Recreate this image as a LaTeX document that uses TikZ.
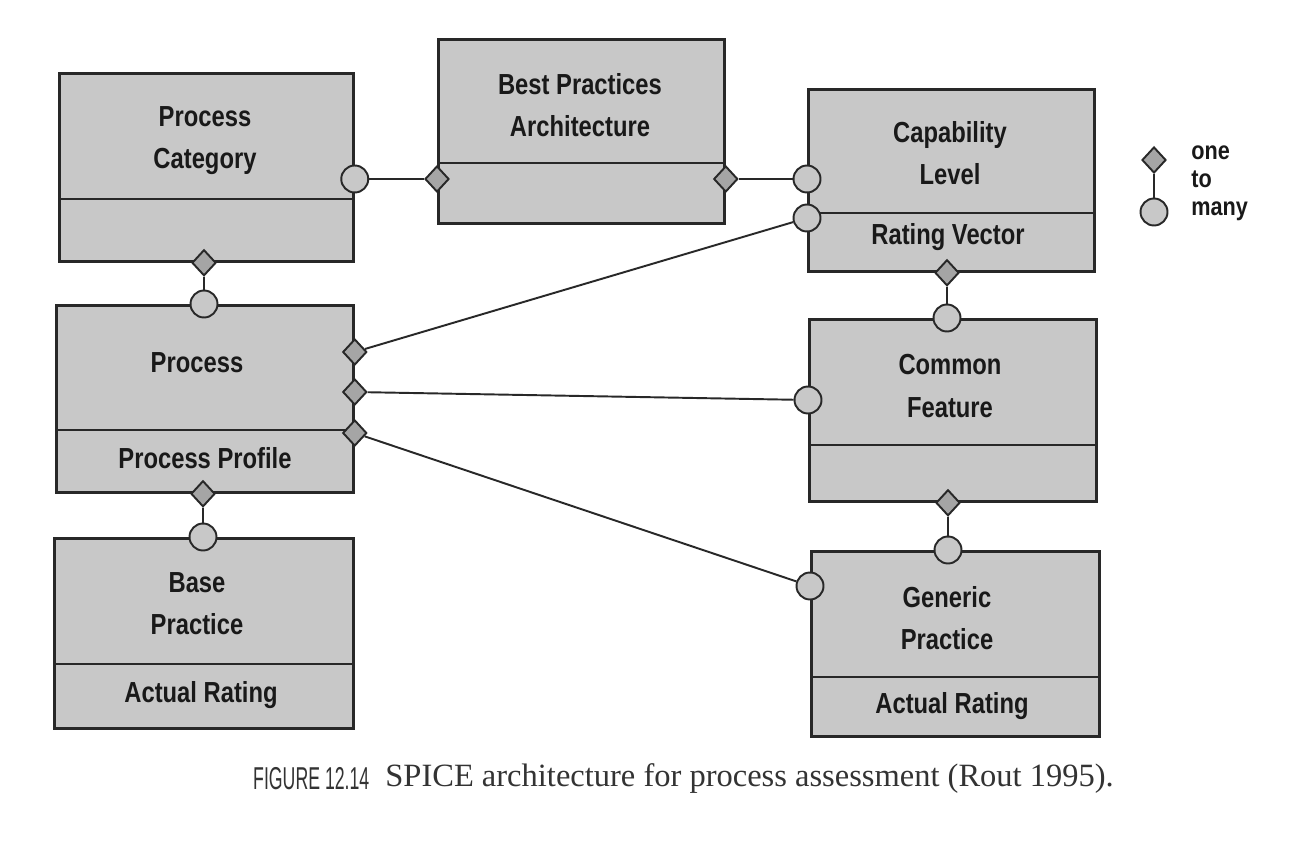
\documentclass[tikz,border=0pt]{standalone}
\usepackage{fontspec}
\usepackage{graphicx}
\setmainfont{Liberation Serif}
\newfontfamily\boxfont{Liberation Sans}
\usetikzlibrary{shapes.geometric,positioning}
\definecolor{boxgray}{RGB}{200,200,200}
\definecolor{markgray}{RGB}{165,165,165}
\definecolor{inkgray}{RGB}{40,40,40}

\begin{document}
\begin{tikzpicture}[x=0.02cm,y=-0.02cm,
  entity/.style={rectangle,draw=inkgray,line width=1.6pt,fill=boxgray,anchor=north west,inner sep=0pt},
  divider/.style={draw=inkgray,line width=1.6pt},
  entitytext/.style={font=\boxfont\bfseries\fontsize{16.5}{24}\selectfont,align=center,text=black!90,xscale=0.82,transform shape},
  onemark/.style={diamond,draw=inkgray,line width=1.1pt,fill=markgray,inner sep=0pt,minimum width=0.48cm,minimum height=0.52cm},
  manymark/.style={circle,draw=inkgray,line width=1.1pt,fill=boxgray,inner sep=0pt,minimum size=0.54cm},
  relline/.style={draw=inkgray,line width=1.1pt}]
\fill[white] (0,0) rectangle (1301,844);
\useasboundingbox (0,0) rectangle (1301,844);

% entities
\node[entity,minimum width=5.88cm,minimum height=3.76cm] (cat) at (58,72) {};
\node[entity,minimum width=5.72cm,minimum height=3.68cm] (bpa) at (437,38) {};
\node[entity,minimum width=5.72cm,minimum height=3.64cm] (cap) at (807,88) {};
\node[entity,minimum width=5.94cm,minimum height=3.74cm] (proc) at (55,304) {};
\node[entity,minimum width=5.74cm,minimum height=3.64cm] (cf) at (808,318) {};
\node[entity,minimum width=5.98cm,minimum height=3.80cm] (base) at (53,537) {};
\node[entity,minimum width=5.76cm,minimum height=3.70cm] (gen) at (810,550) {};
\draw[divider] (cat.west |- 0,199) -- (cat.east |- 0,199);
\draw[divider] (bpa.west |- 0,163) -- (bpa.east |- 0,163);
\draw[divider] (cap.west |- 0,213) -- (cap.east |- 0,213);
\draw[divider] (proc.west |- 0,430) -- (proc.east |- 0,430);
\draw[divider] (cf.west |- 0,445) -- (cf.east |- 0,445);
\draw[divider] (base.west |- 0,664) -- (base.east |- 0,664);
\draw[divider] (gen.west |- 0,677) -- (gen.east |- 0,677);

% names and attributes
\node[entitytext] (catname) at (205,141) {Process\\Category};
\node[entitytext] (bpaname) at (580,105) {Best Practices\\Architecture};
\node[entitytext] (capname) at (950,153) {Capability\\Level};
\node[entitytext] (capattr) at (948,237) {Rating Vector};
\node[entitytext] (procname) at (197,363) {Process};
\node[entitytext] (procattr) at (205,458) {Process Profile};
\node[entitytext] (cfname) at (950,386) {Common\\Feature};
\node[entitytext] (basename) at (197,604) {Base\\Practice};
\node[entitytext] (baseattr) at (201,695) {Actual Rating};
\node[entitytext] (genname) at (947,618) {Generic\\Practice};
\node[entitytext] (genattr) at (952,706) {Actual Rating};

% relationship ends
\node[manymark] (catc) at (cat.east |- 0,179) {};
\node[onemark] (bpad1) at (bpa.west |- 0,179) {};
\node[onemark] (bpad2) at (bpa.east |- 0,179) {};
\node[manymark] (capc1) at (cap.west |- 0,179) {};
\node[manymark] (capc2) at (cap.west |- 0,218) {};
\node[onemark] (capd) at (cap.south -| 947,0) {};
\node[manymark] (cfc1) at (cf.north -| 947,0) {};
\node[manymark] (cfc2) at (cf.west |- 0,400) {};
\node[onemark] (cfd) at (cf.south -| 948,0) {};
\node[manymark] (genc1) at (gen.north -| 948,0) {};
\node[manymark] (genc2) at (gen.west |- 0,586) {};
\node[onemark] (catd) at (cat.south -| 204,0) {};
\node[manymark] (procc) at (proc.north -| 204,0) {};
\node[onemark] (procd1) at (proc.east |- 0,352) {};
\node[onemark] (procd2) at (proc.east |- 0,392) {};
\node[onemark] (procd3) at (proc.east |- 0,433) {};
\node[onemark] (procd4) at (proc.south -| 203,0) {};
\node[manymark] (basec) at (base.north -| 203,0) {};

\draw[relline] (catc) -- (bpad1);
\draw[relline] (bpad2) -- (capc1);
\draw[relline] (procd1) -- (capc2);
\draw[relline] (procd2) -- (cfc2);
\draw[relline] (procd3) -- (genc2);
\draw[relline] (capd) -- (cfc1);
\draw[relline] (cfd) -- (genc1);
\draw[relline] (catd) -- (procc);
\draw[relline] (procd4) -- (basec);

% legend
\node[onemark] (keyone) at (1154,160) {};
\node[manymark] (keymany) at (1154,212) {};
\draw[relline] (keyone) -- (keymany);
\node[font=\boxfont\bfseries\fontsize{14.5}{16}\selectfont,align=left,anchor=west,text=black!90,xscale=0.85,transform shape] (keytext) at (1186,183) {one\\to\\many};

% caption
\node[anchor=west,inner sep=0pt,font=\boxfont\fontsize{18}{20}\selectfont,text=black!80,xscale=0.56,transform shape] (fignum) at (253,779) {FIGURE 12.14};
\node[anchor=west,inner sep=0pt,font=\fontsize{18.5}{20}\selectfont,text=black!80] (figtext) at (385,779) {SPICE architecture for process assessment (Rout 1995).};
\end{tikzpicture}
\end{document}
